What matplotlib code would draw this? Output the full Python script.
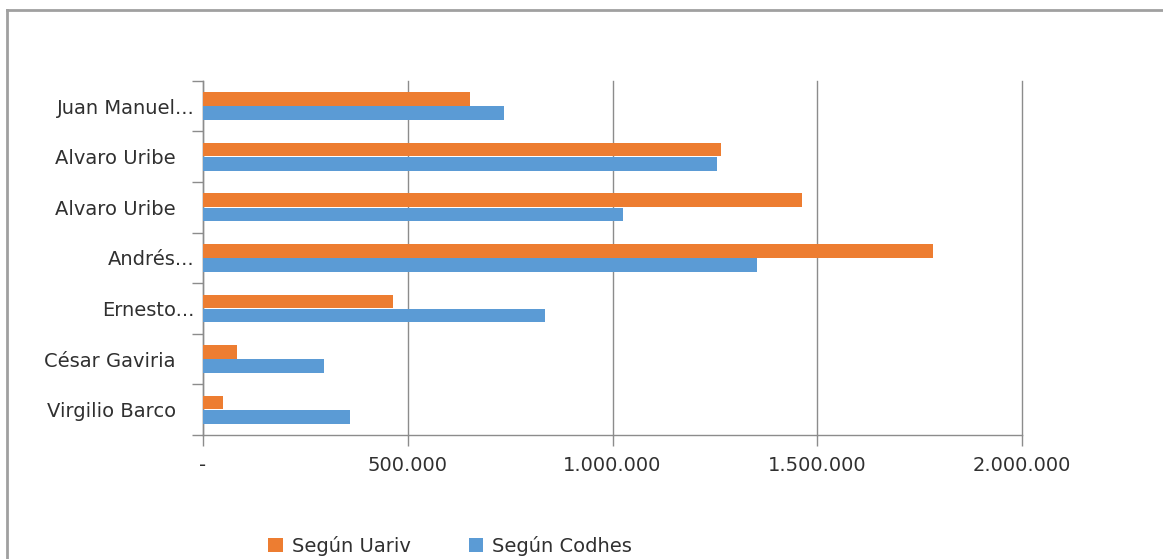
import matplotlib.pyplot as plt
from matplotlib.lines import Line2D
from matplotlib.ticker import FuncFormatter
import numpy as np

plt.rcParams.update({
    'font.family': 'DejaVu Sans',
    'font.size': 14,
})

# categories listed bottom to top, as drawn on the y axis
presidentes = ['Virgilio Barco   ', 'César Gaviria   ', 'Ernesto...',
               'Andrés...', 'Alvaro Uribe   ', 'Alvaro Uribe   ', 'Juan Manuel...']
segun_uariv = [48000, 83000, 464000, 1783000, 1463000, 1264000, 652000]
segun_codhes = [359000, 295000, 835000, 1353000, 1026000, 1255000, 735000]
xticks = [0, 500000, 1000000, 1500000, 2000000]

ORANGE = '#ED7D31'
BLUE = '#5B9BD5'
GRAY = '#8C8C8C'
TXT = '#303030'

fig = plt.figure(figsize=(11.63, 5.59), dpi=100)
ax = fig.add_axes([0.1746, 0.2218, 0.7042, 0.6338])

y = np.arange(len(presidentes))
h = 0.27
ax.barh(y + 0.14, segun_uariv, height=h, color=ORANGE, label='Según Uariv', zorder=3)
ax.barh(y - 0.14, segun_codhes, height=h, color=BLUE, label='Según Codhes', zorder=3)

ax.set_ylim(-0.5, len(presidentes) - 0.5)
ax.set_xlim(0, 2000000)

# labels at category centres, tick marks on the boundaries
ax.set_yticks(y)
ax.set_yticklabels(presidentes)
ax.tick_params(axis='y', which='major', length=0, pad=6, labelcolor=TXT)
ax.set_yticks(np.arange(-0.5, len(presidentes)), minor=True)
ax.tick_params(axis='y', which='minor', length=8, width=1, color=GRAY, direction='out')

ax.set_xticks(xticks)
ax.xaxis.set_major_formatter(FuncFormatter(
    lambda v, p: '-' if v == 0 else f'{int(v):,}'.replace(',', '.')))
ax.tick_params(axis='x', length=8, width=1, color=GRAY, pad=7, labelcolor=TXT)

ax.grid(axis='x', color=GRAY, linewidth=1, zorder=0)
for gl in ax.get_xgridlines():
    gl.set_clip_on(False)
for side in ['top', 'right']:
    ax.spines[side].set_visible(False)
for side in ['left', 'bottom']:
    ax.spines[side].set_color(GRAY)
    ax.spines[side].set_linewidth(1)

# legend below the plot
handles, labels = ax.get_legend_handles_labels()
leg = fig.legend(handles, labels, loc='center', bbox_to_anchor=(0.387, 0.024),
                 ncol=2, frameon=False, handlelength=0.75, handleheight=0.75,
                 handletextpad=0.45, columnspacing=3.0, fontsize=14)
for t in leg.get_texts():
    t.set_color(TXT)

# chart-area border
bc = '#A0A0A0'
fig.add_artist(Line2D([7 / 1163, 7 / 1163], [0, 1 - 10 / 559], color=bc, lw=2))
fig.add_artist(Line2D([7 / 1163, 1.0], [1 - 10 / 559, 1 - 10 / 559], color=bc, lw=2))

fig.savefig('out.png', dpi=100)
